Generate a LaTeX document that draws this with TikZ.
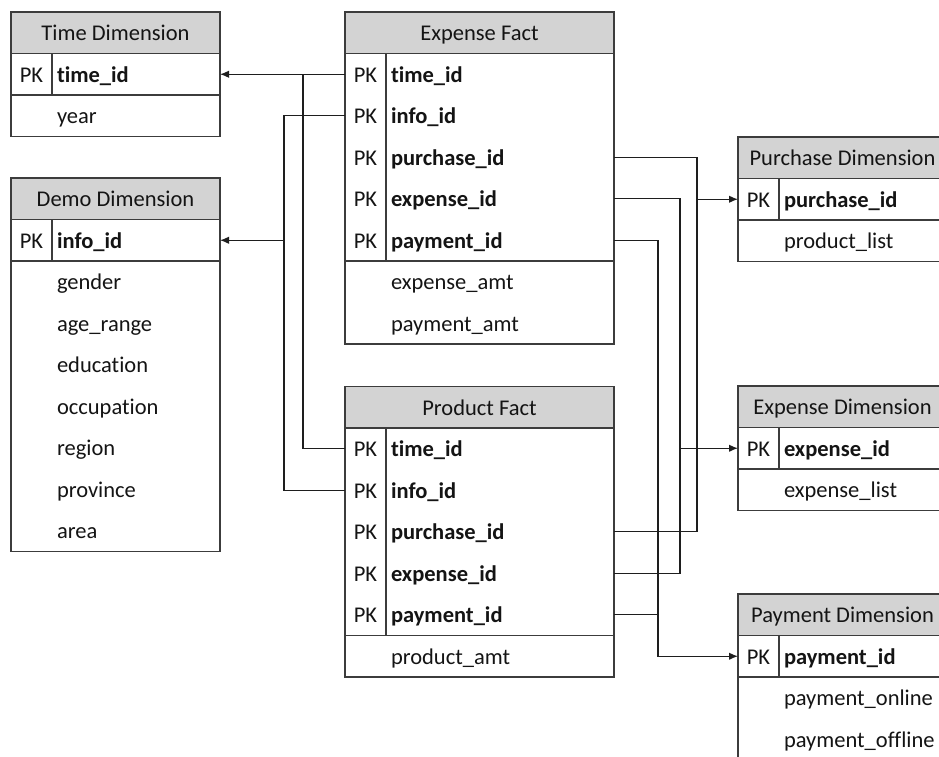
\documentclass[tikz,border=0pt]{standalone}
\usepackage{fontspec}
\setmainfont{Carlito}[Ligatures=NoCommon]
\usetikzlibrary{arrows.meta}

\definecolor{hdrgray}{RGB}{211,211,211}
\definecolor{framegray}{RGB}{60,60,60}
\definecolor{linkgray}{RGB}{30,30,30}
\definecolor{inkgray}{RGB}{20,20,20}

\tikzset{
  slot/.style={rectangle, inner sep=0pt, outer sep=0pt, minimum height=41.5pt},
  hdrslot/.style={slot, fill=hdrgray},
  txt/.style={inner sep=0pt, outer sep=0pt, text=inkgray,
              font=\fontsize{22.5}{27}\selectfont},
  hdrtext/.style={txt, anchor=base},
  pklabel/.style={txt, anchor=base},
  keyfield/.style={txt, anchor=base west, font=\fontsize{22.5}{27}\selectfont\bfseries},
  attrfield/.style={txt, anchor=base west},
  frame/.style={draw=framegray, line width=1.2pt},
  link/.style={draw=linkgray, line width=1.3pt},
  tip/.style={-{Latex[length=9pt,width=7.5pt]}}
}

% table header: name, x, top, width, title
\newcommand\ertitle[5]{%
  \node[hdrslot, minimum width=#4pt, anchor=north west] (#1) at (#2,#3) {};
  \node[hdrtext] (#1-t) at ([yshift=-8pt]#1.center) {#5};}
% key row: name, x, top, width, field
\newcommand\erkey[5]{%
  \node[slot, minimum width=#4pt, anchor=north west] (#1) at (#2,#3) {};
  \node[pklabel] (#1-k) at ([xshift=20.5pt,yshift=-8pt]#1.west) {PK};
  \node[keyfield] (#1-f) at ([xshift=46pt,yshift=-8pt]#1.west) {#5};}
% plain attribute row: name, x, top, width, field
\newcommand\erattr[5]{%
  \node[slot, minimum width=#4pt, anchor=north west] (#1) at (#2,#3) {};
  \node[attrfield] (#1-f) at ([xshift=46pt,yshift=-8pt]#1.west) {#5};}
% frame: header, last key row, last row
\newcommand\erframe[3]{%
  \draw[frame] (#1.north west) rectangle (#3.south east);
  \draw[frame] (#1.south west) -- (#1.south east);
  \draw[frame] (#2.south west) -- (#2.south east);
  \draw[frame] ([xshift=41pt]#1.south west) -- ([xshift=41pt]#2.south west);}

\begin{document}
\begin{tikzpicture}[x=1pt, y=-1pt]
\useasboundingbox (0,0) rectangle (939,756);
\clip (0,0) rectangle (939,756);

% Time Dimension
\ertitle{td-h}{11}{12}{209}{Time Dimension}
\erkey{td-r1}{11}{53.5}{209}{time\_id}
\erattr{td-r2}{11}{95}{209}{year}
\erframe{td-h}{td-r1}{td-r2}

% Demo Dimension
\ertitle{dd-h}{11}{178}{209}{Demo Dimension}
\erkey{dd-r1}{11}{219.5}{209}{info\_id}
\erattr{dd-r2}{11}{261}{209}{gender}
\erattr{dd-r3}{11}{302.5}{209}{age\_range}
\erattr{dd-r4}{11}{344}{209}{education}
\erattr{dd-r5}{11}{385.5}{209}{occupation}
\erattr{dd-r6}{11}{427}{209}{region}
\erattr{dd-r7}{11}{468.5}{209}{province}
\erattr{dd-r8}{11}{510}{209}{area}
\erframe{dd-h}{dd-r1}{dd-r8}

% Expense Fact
\ertitle{ef-h}{345}{12}{269}{Expense Fact}
\erkey{ef-r1}{345}{53.5}{269}{time\_id}
\erkey{ef-r2}{345}{95}{269}{info\_id}
\erkey{ef-r3}{345}{136.5}{269}{purchase\_id}
\erkey{ef-r4}{345}{178}{269}{expense\_id}
\erkey{ef-r5}{345}{219.5}{269}{payment\_id}
\erattr{ef-r6}{345}{261}{269}{expense\_amt}
\erattr{ef-r7}{345}{302.5}{269}{payment\_amt}
\erframe{ef-h}{ef-r5}{ef-r7}

% Product Fact
\ertitle{pf-h}{345}{386.5}{269}{Product Fact}
\erkey{pf-r1}{345}{428}{269}{time\_id}
\erkey{pf-r2}{345}{469.5}{269}{info\_id}
\erkey{pf-r3}{345}{511}{269}{purchase\_id}
\erkey{pf-r4}{345}{552.5}{269}{expense\_id}
\erkey{pf-r5}{345}{594}{269}{payment\_id}
\erattr{pf-r6}{345}{635.5}{269}{product\_amt}
\erframe{pf-h}{pf-r5}{pf-r6}

% Purchase Dimension
\ertitle{pd-h}{738}{137}{209}{Purchase Dimension}
\erkey{pd-r1}{738}{178.5}{209}{purchase\_id}
\erattr{pd-r2}{738}{220}{209}{product\_list}
\erframe{pd-h}{pd-r1}{pd-r2}

% Expense Dimension
\ertitle{xd-h}{738}{386}{209}{Expense Dimension}
\erkey{xd-r1}{738}{427.5}{209}{expense\_id}
\erattr{xd-r2}{738}{469}{209}{expense\_list}
\erframe{xd-h}{xd-r1}{xd-r2}

% Payment Dimension
\ertitle{yd-h}{738}{594}{209}{Payment Dimension}
\erkey{yd-r1}{738}{635.5}{209}{payment\_id}
\erattr{yd-r2}{738}{677}{209}{payment\_online}
\erattr{yd-r3}{738}{718.5}{209}{payment\_offline}
\erframe{yd-h}{yd-r1}{yd-r3}

% vertical buses of the connectors
\coordinate (busT) at (303,0);
\coordinate (busI) at (284,0);
\coordinate (busP) at (697,0);
\coordinate (busX) at (680,0);
\coordinate (busY) at (658,0);

% time_id
\draw[link, tip] (ef-r1.west) -- (td-r1.east);
\draw[link] (ef-r1.west -| busT) |- (pf-r1.west);
% info_id
\draw[link] (ef-r2.west) -- (ef-r2.west -| busI) |- (pf-r2.west);
\draw[link, tip] (busI |- dd-r1.east) -- (dd-r1.east);
% purchase_id
\draw[link] (ef-r3.east) -- (ef-r3.east -| busP) |- (pf-r3.east);
\draw[link, tip] (busP |- pd-r1.west) -- (pd-r1.west);
% expense_id
\draw[link] (ef-r4.east) -- (ef-r4.east -| busX) |- (pf-r4.east);
\draw[link, tip] (busX |- xd-r1.west) -- (xd-r1.west);
% payment_id
\draw[link, tip] (ef-r5.east) -- (ef-r5.east -| busY) |- (yd-r1.west);
\draw[link] (pf-r5.east) -- (pf-r5.east -| busY);
\end{tikzpicture}
\end{document}
